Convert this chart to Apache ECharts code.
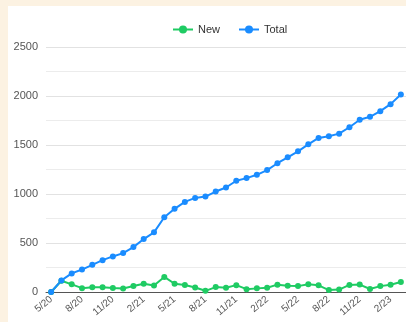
<!DOCTYPE html>
<html>
<head>
<meta charset="utf-8">
<script src="https://cdn.jsdelivr.net/npm/echarts@6/dist/echarts.min.js"></script>
<style>
  html, body { margin: 0; padding: 0; background: #fcf2e2; }
  #main { position: absolute; left: 8px; top: 6px; width: 398px; height: 316px; background: #fff; }
</style>
</head>
<body>
<div id="main"></div>
<script>
var months = ['5/20','6/20','7/20','8/20','9/20','10/20','11/20','12/20','1/21','2/21','3/21','4/21',
  '5/21','6/21','7/21','8/21','9/21','10/21','11/21','12/21','1/22','2/22','3/22','4/22',
  '5/22','6/22','7/22','8/22','9/22','10/22','11/22','12/22','1/23','2/23','3/23'];
var newCases = [0, 115, 78, 39, 48, 48, 40, 36, 62, 84, 67, 154, 84, 72, 46, 12, 50, 44, 70, 29, 37, 44,
  75, 63, 60, 78, 68, 20, 25, 72, 76, 31, 60, 74, 102];
var totalCases = [0, 118, 190, 229, 277, 325, 363, 397, 458, 540, 609, 763, 849, 919, 960, 974, 1025, 1066,
  1135, 1162, 1196, 1244, 1314, 1374, 1435, 1507, 1572, 1589, 1616, 1681, 1757, 1788, 1845, 1917, 2016];

var myChart = echarts.init(document.getElementById('main'));
var option = {
    textStyle: { fontFamily: 'Liberation Sans, Arial, sans-serif' },
    legend: {
        left: 159,
        top: 13,
        itemWidth: 20,
        itemHeight: 10,
        itemGap: 18,
        textStyle: { fontSize: 11, color: '#333' },
        data: ['New', 'Total']
    },
    grid: { left: 38, right: 0, top: 41, bottom: 30 },
    xAxis: {
        type: 'category',
        boundaryGap: true,
        data: months,
        axisTick: { show: false },
        axisLine: { lineStyle: { color: '#555' } },
        axisLabel: { interval: 2, rotate: 40, fontSize: 10, color: '#555', margin: 6 }
    },
    yAxis: {
        type: 'value',
        min: 0,
        max: 2500,
        interval: 500,
        axisLabel: {
            fontSize: 11,
            color: '#555',
            margin: 8,
            formatter: function (v) { return String(v); }
        },
        splitLine: { lineStyle: { color: '#e2e2e2', width: 1 } },
        minorTick: { show: false, splitNumber: 2 },
        minorSplitLine: { show: true, lineStyle: { color: '#ececec', width: 1 } }
    },
    series: [
        {
            name: 'New',
            type: 'line',
            data: newCases,
            symbol: 'circle',
            symbolSize: 6,
            color: '#1fcb63',
            lineStyle: { width: 2 }
        },
        {
            name: 'Total',
            type: 'line',
            data: totalCases,
            symbol: 'circle',
            symbolSize: 6,
            color: '#1a8cff',
            lineStyle: { width: 2 }
        }
    ]
};
myChart.setOption(option);
</script>
</body>
</html>
